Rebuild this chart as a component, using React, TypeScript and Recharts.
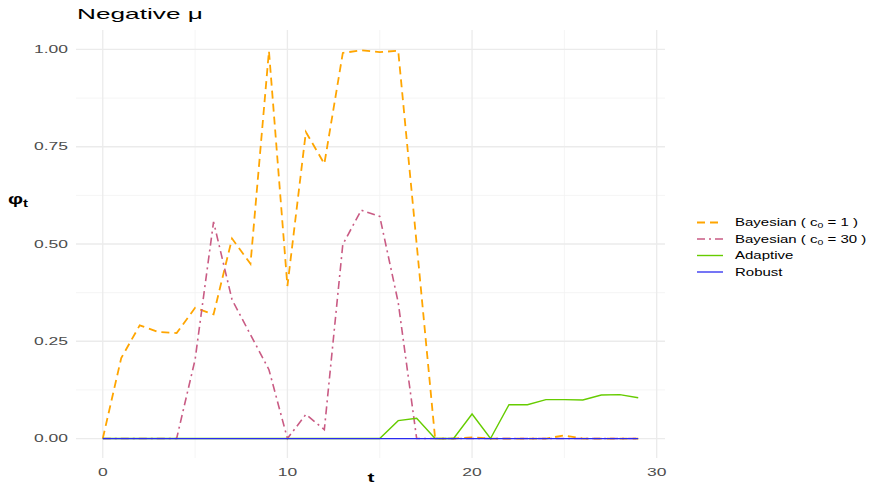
import { LineChart, Line, XAxis, YAxis, ReferenceLine } from "recharts"

const tValues = [
  0, 1, 2, 3, 4, 5, 6, 7, 8, 9, 10, 11, 12, 13, 14, 15, 16, 17, 18, 19, 20, 21,
  22, 23, 24, 25, 26, 27, 28, 29,
]
const bayesC1 = [
  0, 0.207, 0.291, 0.274, 0.271, 0.336, 0.319, 0.514, 0.449, 0.996, 0.392,
  0.788, 0.706, 0.991, 0.998, 0.993, 0.997, 0.5, 0, 0, 0.003, 0, 0, 0, 0,
  0.008, 0, 0, 0, 0,
]
const bayesC30 = [
  0, 0, 0, 0, 0, 0.203, 0.557, 0.357, 0.267, 0.177, 0, 0.062, 0.023, 0.499,
  0.587, 0.571, 0.35, 0, 0, 0, 0, 0, 0, 0, 0, 0, 0, 0, 0, 0,
]
const adaptive = [
  0, 0, 0, 0, 0, 0, 0, 0, 0, 0, 0, 0, 0, 0, 0, 0, 0.046, 0.052, 0, 0, 0.063, 0,
  0.087, 0.087, 0.1, 0.1, 0.099, 0.112, 0.113, 0.105,
]
const robust = [
  0, 0, 0, 0, 0, 0, 0, 0, 0, 0, 0, 0, 0, 0, 0, 0, 0, 0, 0, 0, 0, 0, 0, 0, 0, 0,
  0, 0, 0, 0,
]

const xTicks = [0, 10, 20, 30]
const xMinor = [5, 15, 25]
const yTicks = [0, 0.25, 0.5, 0.75, 1]
const yMinor = [0.125, 0.375, 0.625, 0.875]

const series = [
  { key: "b1", label: "Bayesian ( c", sub: "0", rest: " = 1 )", color: "#FFA500", dash: "8 5", width: 1.8 },
  { key: "b30", label: "Bayesian ( c", sub: "0", rest: " = 30 )", color: "#C95B84", dash: "8 4 2 4", width: 1.6 },
  { key: "ad", label: "Adaptive", sub: "", rest: "", color: "#66CC00", dash: undefined, width: 1.4 },
  { key: "rb", label: "Robust", sub: "", rest: "", color: "#2A2AF0", dash: undefined, width: 1.3 },
]

const data = tValues.map((t, i) => ({
  t,
  b1: bayesC1[i],
  b30: bayesC30[i],
  ad: adaptive[i],
  rb: robust[i],
}))

const FONT = "'Liberation Sans', Arial, Helvetica, sans-serif"
const STRETCH = 1.75

function XTick({ x, y, payload }: any) {
  return (
    <text
      transform={`translate(${x},${y + 10}) scale(${STRETCH},1)`}
      textAnchor="middle"
      fontFamily={FONT}
      fontSize={10}
      fill="#4D4D4D"
    >
      {payload.value}
    </text>
  )
}

function YTick({ x, y, payload }: any) {
  return (
    <text
      transform={`translate(${x},${y + 3.5}) scale(${STRETCH},1)`}
      textAnchor="end"
      fontFamily={FONT}
      fontSize={10}
      fill="#4D4D4D"
    >
      {payload.value.toFixed(2)}
    </text>
  )
}

export default function App() {
  return (
    <div
      style={{
        position: "absolute",
        left: 0,
        top: 0,
        width: 872,
        height: 486,
        background: "#fff",
      }}
    >
      <LineChart
        width={872}
        height={486}
        data={data}
        margin={{ top: 30, right: 207, bottom: 0, left: 0 }}
      >
        {yMinor.map((v) => (
          <ReferenceLine key={"ym" + v} y={v} stroke="#F2F2F2" strokeWidth={0.8} />
        ))}
        {xMinor.map((v) => (
          <ReferenceLine key={"xm" + v} x={v} stroke="#F2F2F2" strokeWidth={0.8} />
        ))}
        {yTicks.map((v) => (
          <ReferenceLine key={"y" + v} y={v} stroke="#EBEBEB" strokeWidth={1.3} />
        ))}
        {xTicks.map((v) => (
          <ReferenceLine key={"x" + v} x={v} stroke="#EBEBEB" strokeWidth={1.3} />
        ))}
        <XAxis
          dataKey="t"
          type="number"
          domain={[-1.45, 30.45]}
          ticks={xTicks}
          height={28}
          axisLine={false}
          tickLine={false}
          tick={<XTick />}
          interval={0}
          allowDataOverflow
        />
        <YAxis
          type="number"
          domain={[-0.05, 1.05]}
          ticks={yTicks}
          width={76}
          axisLine={false}
          tickLine={false}
          tick={<YTick />}
          interval={0}
          allowDataOverflow
        />
        {series.map((s) => (
          <Line
            key={s.key}
            dataKey={s.key}
            type="linear"
            stroke={s.color}
            strokeWidth={s.width}
            strokeDasharray={s.dash}
            dot={false}
            activeDot={false}
            isAnimationActive={false}
          />
        ))}
      </LineChart>
      <svg
        width={872}
        height={486}
        style={{ position: "absolute", left: 0, top: 0, pointerEvents: "none" }}
      >
        <text
          transform={`translate(77,19) scale(${STRETCH},1)`}
          fontFamily={FONT}
          fontSize={15}
          fill="#000"
        >
          Negative μ
        </text>
        <text
          transform={`translate(8,204) scale(1.5,1)`}
          fontFamily={FONT}
          fontSize={14}
          fontWeight="bold"
          fill="#000"
        >
          φ
          <tspan fontSize={10} dy={3}>
            t
          </tspan>
        </text>
        <text
          transform={`translate(371,482) scale(1.6,1)`}
          textAnchor="middle"
          fontFamily={FONT}
          fontSize={13}
          fontWeight="bold"
          fill="#000"
        >
          t
        </text>
        {series.map((s, i) => {
          const y = 222.5 + i * 16.5
          return (
            <g key={s.key}>
              <line
                x1={697}
                x2={723}
                y1={y}
                y2={y}
                stroke={s.color}
                strokeWidth={s.width}
                strokeDasharray={s.dash}
              />
              <text
                transform={`translate(735,${y + 3.5}) scale(1.5,1)`}
                fontFamily={FONT}
                fontSize={10}
                fill="#000"
              >
                {s.label}
                {s.sub && (
                  <tspan fontSize={7} dy={2}>
                    {s.sub}
                  </tspan>
                )}
                {s.rest && <tspan dy={s.sub ? -2 : 0}>{s.rest}</tspan>}
              </text>
            </g>
          )
        })}
      </svg>
    </div>
  )
}
